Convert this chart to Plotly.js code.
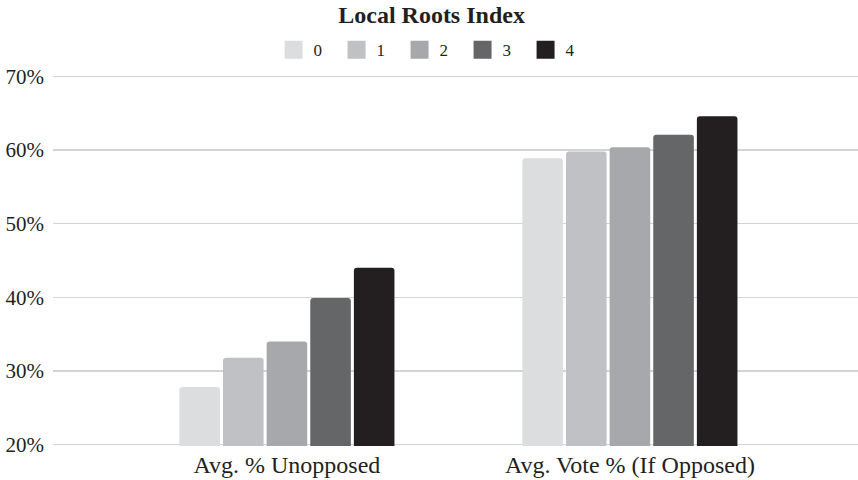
<!DOCTYPE html>
<html><head><meta charset="utf-8">
<script src="https://cdn.plot.ly/plotly-3.0.1.min.js"></script>
<style>html,body{margin:0;padding:0;background:#fff}#chart{width:858px;height:480px}</style>
</head><body><div id="chart"></div>
<script>
const categories = ["Avg. % Unopposed", "Avg. Vote % (If Opposed)"];
const seriesNames = ["0", "1", "2", "3", "4"];
const values0 = [27.8, 58.9];
const values1 = [31.8, 59.8];
const values2 = [34.0, 60.4];
const values3 = [39.9, 62.1];
const values4 = [44.0, 64.6];
const yTickVals = [20, 30, 40, 50, 60, 70];
const yTickText = ["20%", "30%", "40%", "50%", "60%", "70%"];
const colors = ["#dcdddf", "#c0c1c4", "#a7a8ab", "#656668", "#231f20"];
const allValues = [values0, values1, values2, values3, values4];

const traces = allValues.map((v, i) => ({
  type: "bar",
  name: seriesNames[i],
  x: [0, 1],
  y: v,
  showlegend: false,
  marker: {color: colors[i], cornerradius: 3, line: {width: 0}},
  hoverinfo: "none"
}));
// legend entries (larger square swatches than the default bar legend icon)
seriesNames.forEach((n, i) => traces.push({
  type: "scatter", mode: "markers", name: n,
  x: [null], y: [null],
  marker: {symbol: "square", size: 16, color: colors[i], line: {width: 2, color: colors[i]}},
  hoverinfo: "none", showlegend: true
}));

const layout = {
  width: 858, height: 480,
  margin: {l: 53, r: 0, t: 75, b: 34},
  paper_bgcolor: "#fff", plot_bgcolor: "#fff",
  font: {family: "Liberation Serif, Times New Roman, serif", color: "#231f20"},
  title: {text: "<b>Local Roots Index</b>", x: 0.503, xanchor: "center", y: 0.987, yanchor: "top", font: {size: 24, color: "#231f20"}},
  barmode: "group",
  bargap: 0.364,
  bargroupgap: 0.07,
  showlegend: true,
  legend: {orientation: "h", x: 0.274, xanchor: "left", y: 1.067, yanchor: "middle", font: {size: 17}, entrywidth: 18, entrywidthmode: "pixels", traceorder: "normal"},
  xaxis: {
    range: [-0.682, 1.665],
    tickvals: [0, 1], ticktext: categories,
    tickfont: {size: 24}, showgrid: false, zeroline: false, showline: false, ticks: "", fixedrange: true, ticklabelstandoff: 2
  },
  yaxis: {
    range: [19.8, 70.2], tickvals: yTickVals, ticktext: yTickText,
    tickfont: {size: 21}, showgrid: true, gridcolor: "#d3d3d3", gridwidth: 1.6,
    zeroline: false, showline: false, ticks: "", ticklabelstandoff: 8
  }
};
Plotly.newPlot("chart", traces, layout, {displayModeBar: false, staticPlot: true});
</script></body></html>
